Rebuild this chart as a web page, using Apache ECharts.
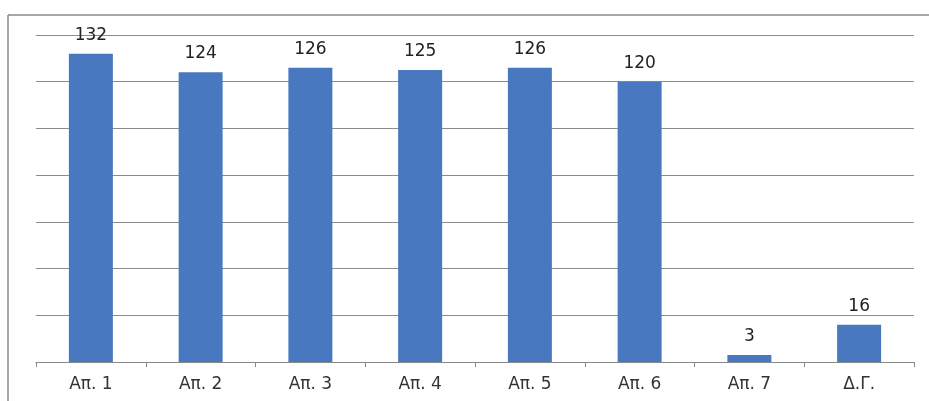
<!DOCTYPE html>
<html>
<head>
<meta charset="utf-8">
<script src="https://cdn.jsdelivr.net/npm/echarts@6/dist/echarts.min.js"></script>
<style>html,body{margin:0;padding:0;background:#fff;}#c{width:929px;height:401px;}</style>
</head>
<body>
<div id="c"></div>
<script>
var categories = ['Απ. 1', 'Απ. 2', 'Απ. 3', 'Απ. 4', 'Απ. 5', 'Απ. 6', 'Απ. 7', 'Δ.Γ.'];
var values = [132, 124, 126, 125, 126, 120, 3, 16];

var chart = echarts.init(document.getElementById('c'));
chart.setOption({
  animation: false,
  backgroundColor: '#fff',
  graphic: [
    { type: 'line', shape: { x1: 8, y1: 15, x2: 929, y2: 15 }, style: { stroke: '#8a8a8a', lineWidth: 1.5 } },
    { type: 'line', shape: { x1: 8, y1: 15, x2: 8, y2: 401 }, style: { stroke: '#8a8a8a', lineWidth: 1.5 } }
  ],
  grid: { left: 36, right: 15, top: 35, bottom: 39 },
  xAxis: {
    type: 'category',
    data: categories,
    axisLine: { lineStyle: { color: '#888', width: 1 } },
    axisTick: { show: true, length: 5, lineStyle: { color: '#888' } },
    axisLabel: { color: '#333', fontSize: 17, fontFamily: 'DejaVu Sans', margin: 14 }
  },
  yAxis: {
    type: 'value',
    min: 0, max: 140, interval: 20,
    axisLabel: { show: false },
    axisLine: { show: false },
    axisTick: { show: false },
    splitLine: { lineStyle: { color: '#8c8c8c', width: 1 } }
  },
  series: [{
    type: 'bar',
    data: values,
    barWidth: 44,
    itemStyle: { color: '#4878bf' },
    label: { show: true, position: 'top', distance: 10, color: '#222', fontSize: 17, fontFamily: 'DejaVu Sans' }
  }]
});
</script>
</body>
</html>
